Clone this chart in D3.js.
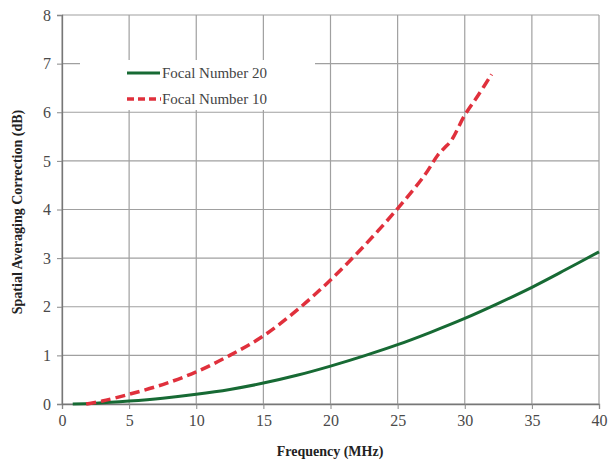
<!DOCTYPE html>
<html>
<head>
<meta charset="utf-8">
<script src="https://cdn.jsdelivr.net/npm/d3@7"></script>
<style>
  body { margin: 0; background: #fff; }
  text { font-family: "Liberation Serif", "Times New Roman", serif; }
</style>
</head>
<body>
<div id="chart"></div>
<script>
// data
var f20Freq = [0.8, 2.5, 5, 7.5, 10, 12.5, 15, 17.5, 20, 22.5, 25, 27.5, 30, 32.5, 35, 37.5, 40];
var f20Corr = [0, 0.015, 0.06, 0.12, 0.2, 0.3, 0.43, 0.59, 0.78, 0.99, 1.22, 1.48, 1.76, 2.07, 2.4, 2.76, 3.13];
var f10Freq = [1.8, 3, 5, 7.5, 10, 12.5, 15, 17.5, 20, 22.5, 25, 27, 28, 28.5, 29, 30, 31, 32];
var f10Corr = [0, 0.06, 0.2, 0.4, 0.66, 1.0, 1.4, 1.93, 2.55, 3.25, 4.02, 4.7, 5.12, 5.27, 5.42, 5.94, 6.35, 6.78];
var xTicks = [0, 5, 10, 15, 20, 25, 30, 35, 40];
var yTicks = [0, 1, 2, 3, 4, 5, 6, 7, 8];
var seriesNames = ["Focal Number 20", "Focal Number 10"];

var width = 609, height = 464;
var margin = {left: 62, right: 10, top: 15, bottom: 60};

var svg = d3.select("#chart").append("svg")
  .attr("width", width)
  .attr("height", height);

var x = d3.scaleLinear().domain([0, 40]).range([margin.left, width - margin.right]);
var y = d3.scaleLinear().domain([0, 8]).range([height - margin.bottom, margin.top]);

// grid
svg.append("g")
  .selectAll("line.v")
  .data(xTicks)
  .enter().append("line")
  .attr("x1", (d) => x(d)).attr("x2", (d) => x(d))
  .attr("y1", y(8)).attr("y2", y(0))
  .attr("stroke", "#a0a0a0").attr("stroke-width", 1.2);
svg.append("g")
  .selectAll("line.h")
  .data(yTicks)
  .enter().append("line")
  .attr("x1", x(0)).attr("x2", x(40))
  .attr("y1", (d) => y(d)).attr("y2", (d) => y(d))
  .attr("stroke", "#a0a0a0").attr("stroke-width", 1.2);

// legend box covers the grid
svg.append("rect")
  .attr("x", 80).attr("y", 60)
  .attr("width", 235).attr("height", 50)
  .attr("fill", "#fff");

// axes
var bottomAxis = d3.axisBottom(x).tickValues(xTicks).tickSize(5).tickPadding(6);
var leftAxis = d3.axisLeft(y).tickValues(yTicks).tickSize(5).tickPadding(6);

var gx = svg.append("g")
  .attr("transform", "translate(0," + y(0) + ")")
  .call(bottomAxis);
var gy = svg.append("g")
  .attr("transform", "translate(" + x(0) + ",0)")
  .call(leftAxis);
[gx, gy].forEach((g) => {
  g.select(".domain").attr("stroke", "#777").attr("stroke-width", 1.3);
  g.selectAll(".tick line").attr("stroke", "#888");
  g.selectAll(".tick text")
    .attr("font-family", "Liberation Serif, serif")
    .attr("font-size", "16px")
    .attr("fill", "#4a4a4a");
});

// lines
var line = d3.line()
  .x((d) => x(d[0]))
  .y((d) => y(d[1]))
  .curve(d3.curveCatmullRom.alpha(0.5));

svg.append("path")
  .datum(f20Freq.map((f, i) => [f, f20Corr[i]]))
  .attr("d", line)
  .attr("fill", "none")
  .attr("stroke", "#176a34")
  .attr("stroke-width", 3);

svg.append("path")
  .datum(f10Freq.map((f, i) => [f, f10Corr[i]]))
  .attr("d", line)
  .attr("fill", "none")
  .attr("stroke", "#e0303c")
  .attr("stroke-width", 3.5)
  .attr("stroke-dasharray", "10,5");

// legend
var legend = svg.append("g");
legend.append("line")
  .attr("x1", 127).attr("x2", 160).attr("y1", 73).attr("y2", 73)
  .attr("stroke", "#176a34").attr("stroke-width", 3);
legend.append("line")
  .attr("x1", 127).attr("x2", 161).attr("y1", 99).attr("y2", 99)
  .attr("stroke", "#e0303c").attr("stroke-width", 3.5)
  .attr("stroke-dasharray", "7,4");
legend.selectAll("text")
  .data(seriesNames)
  .enter().append("text")
  .attr("x", 162)
  .attr("y", (d, i) => 78 + i * 26)
  .attr("font-size", "15px")
  .attr("fill", "#444")
  .text((d) => d);

// axis titles
svg.append("text")
  .attr("x", 330)
  .attr("y", 456)
  .attr("text-anchor", "middle")
  .attr("font-size", "14px")
  .attr("font-weight", "bold")
  .attr("fill", "#222")
  .text("Frequency (MHz)");

svg.append("text")
  .attr("transform", "translate(22," + 212 + ") rotate(-90)")
  .attr("text-anchor", "middle")
  .attr("font-size", "14px")
  .attr("font-weight", "bold")
  .attr("fill", "#222")
  .text("Spatial Averaging Correction (dB)");
</script>
</body>
</html>
